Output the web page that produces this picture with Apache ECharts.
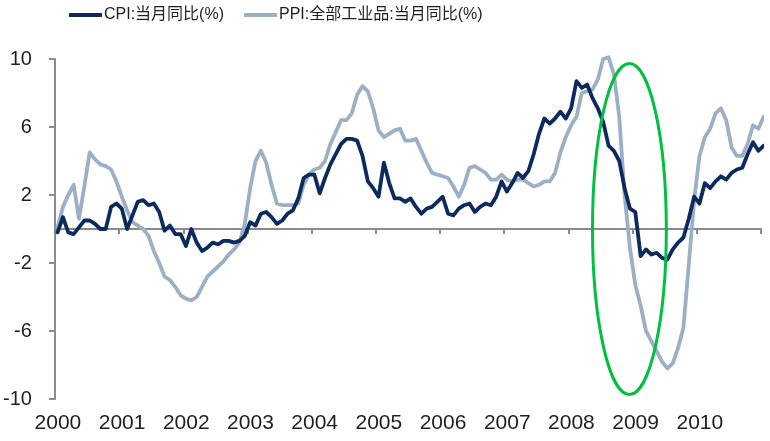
<!DOCTYPE html>
<html>
<head>
<meta charset="utf-8">
<script src="https://cdn.jsdelivr.net/npm/echarts@6/dist/echarts.min.js"></script>
<style>
html,body{margin:0;padding:0;background:#fff;}
#main{width:770px;height:441px;}
</style>
</head>
<body>
<div id="main"></div>
<script>
// Tick labels (year boundaries, one every 12 months starting Jan 2000)
const years = ['2000','2001','2002','2003','2004','2005','2006','2007','2008','2009','2010'];
const yTicks = [-10, -6, -2, 2, 6, 10];
const seriesNames = ['CPI:当月同比(%)', 'PPI:全部工业品:当月同比(%)'];

// Monthly values, Jan 2000 .. Jan 2011
const cpi = [
  -0.2, 0.7, -0.2, -0.3, 0.1, 0.5, 0.5, 0.3, 0.0, 0.0, 1.3, 1.5,
  1.2, 0.0, 0.8, 1.6, 1.7, 1.4, 1.5, 1.0, -0.1, 0.2, -0.3, -0.3,
  -1.0, 0.0, -0.8, -1.3, -1.1, -0.8, -0.9, -0.7, -0.7, -0.8, -0.7, -0.4,
  0.4, 0.2, 0.9, 1.0, 0.7, 0.3, 0.5, 0.9, 1.1, 1.8, 3.0, 3.2,
  3.2, 2.1, 3.0, 3.8, 4.4, 5.0, 5.3, 5.3, 5.2, 4.3, 2.8, 2.4,
  1.9, 3.9, 2.7, 1.8, 1.8, 1.6, 1.8, 1.3, 0.9, 1.2, 1.3, 1.6,
  1.9, 0.9, 0.8, 1.2, 1.4, 1.5, 1.0, 1.3, 1.5, 1.4, 1.9, 2.8,
  2.2, 2.7, 3.3, 3.0, 3.4, 4.4, 5.6, 6.5, 6.2, 6.5, 6.9, 6.5,
  7.1, 8.7, 8.3, 8.5, 7.7, 7.1, 6.3, 4.9, 4.6, 4.0, 2.4, 1.2,
  1.0, -1.6, -1.2, -1.5, -1.4, -1.7, -1.8, -1.2, -0.8, -0.5, 0.6, 1.9,
  1.5, 2.7, 2.4, 2.8, 3.1, 2.9, 3.3, 3.5, 3.6, 4.4, 5.1, 4.6,
  4.9
];
const ppi = [
  0.1, 1.3, 2.0, 2.6, 0.6, 2.5, 4.5, 4.1, 3.8, 3.7, 3.5, 2.8,
  1.9, 1.1, 0.4, 0.2, 0.0, -0.4, -1.3, -2.0, -2.8, -3.0, -3.4, -3.9,
  -4.1, -4.2, -4.0, -3.4, -2.8, -2.5, -2.2, -1.9, -1.5, -1.2, -0.8, 0.3,
  2.4, 4.0, 4.6, 3.9, 2.6, 1.5, 1.4, 1.4, 1.4, 1.5, 2.6, 3.2,
  3.5, 3.6, 4.0, 5.0, 5.7, 6.4, 6.4, 6.8, 7.9, 8.4, 8.1, 7.1,
  5.8, 5.4, 5.6, 5.8, 5.9, 5.2, 5.2, 5.3, 4.6, 3.9, 3.3, 3.2,
  3.1, 3.0, 2.5, 1.9, 2.6, 3.6, 3.7, 3.5, 3.3, 2.9, 2.9, 3.2,
  2.9, 2.8, 2.9, 2.9, 2.7, 2.5, 2.6, 2.8, 2.8, 3.3, 4.5, 5.4,
  6.1, 6.6, 8.0, 8.1, 8.2, 8.8, 10.0, 10.1, 9.1, 6.6, 2.0, -1.1,
  -3.3, -4.5, -6.0, -6.6, -7.2, -7.8, -8.2, -7.9, -7.0, -5.8, -2.1, 1.7,
  4.3, 5.4, 5.9, 6.8, 7.1, 6.4, 4.8, 4.3, 4.3, 5.0, 6.1, 5.9,
  6.6
];

// Highlight ellipse (in data units): centre month index / value, half-width in months, half-height in %
const highlight = { month: 107.4, value: 0, halfMonths: 6.9, halfValue: 9.74 };

const FONT = '"Liberation Sans", Arial, "Noto Sans CJK SC", sans-serif';
const AXIS_COLOR = '#8a8a8a';
const TEXT_COLOR = '#1e1e1e';
const monthsTotal = years.length * 12;

// place each monthly value in the middle of its month
const toXY = arr => arr.map((v, i) => [i + 0.5, v]);

const chart = echarts.init(document.getElementById('main'), null, { renderer: 'canvas' });

const option = {
  animation: false,
  backgroundColor: '#ffffff',
  textStyle: { fontFamily: FONT },
  legend: {
    left: 69,
    top: 7,
    padding: 0,
    icon: 'rect',
    itemWidth: 33,
    itemHeight: 4,
    itemGap: 20,
    data: seriesNames,
    textStyle: { fontFamily: FONT, fontSize: 16, color: TEXT_COLOR, padding: [0, 0, 0, -3] }
  },
  grid: { left: 53, right: 9, top: 59, bottom: 42, containLabel: false },
  xAxis: [
    {
      type: 'value',
      min: 0,
      max: monthsTotal,
      interval: 12,
      position: 'bottom',
      axisLine: { show: false, onZero: false },
      axisTick: { show: false },
      splitLine: { show: false },
      axisLabel: {
        show: true,
        margin: 14,
        fontSize: 21,
        color: TEXT_COLOR,
        fontFamily: FONT,
        padding: [0, 0, 0, 6],
        formatter: v => (years[v / 12] !== undefined ? years[v / 12] : '')
      }
    },
    {
      type: 'value',
      min: 0,
      max: monthsTotal,
      interval: 12,
      position: 'bottom',
      axisLine: { show: true, onZero: true, lineStyle: { color: AXIS_COLOR, width: 2 } },
      axisTick: { show: true, inside: false, length: 5, lineStyle: { color: AXIS_COLOR, width: 2 } },
      axisLabel: { show: false },
      splitLine: { show: false }
    }
  ],
  yAxis: {
    type: 'value',
    min: -10,
    max: 10,
    axisLine: { show: true, onZero: false, lineStyle: { color: AXIS_COLOR, width: 2 } },
    axisTick: { show: true, length: 6, customValues: yTicks, lineStyle: { color: AXIS_COLOR, width: 2 } },
    splitLine: { show: false },
    axisLabel: {
      customValues: yTicks,
      margin: 23,
      fontSize: 20,
      color: TEXT_COLOR,
      fontFamily: FONT
    }
  },
  series: [
    {
      name: seriesNames[0],
      type: 'line',
      xAxisIndex: 0,
      yAxisIndex: 0,
      data: toXY(cpi),
      color: '#0c2a5e',
      showSymbol: false,
      symbol: 'none',
      clip: false,
      z: 3,
      lineStyle: { width: 3.8, color: '#0c2a5e', cap: 'round', join: 'round' }
    },
    {
      name: seriesNames[1],
      type: 'line',
      xAxisIndex: 0,
      yAxisIndex: 0,
      data: toXY(ppi),
      color: '#9bb0c4',
      showSymbol: false,
      symbol: 'none',
      clip: false,
      z: 2,
      lineStyle: { width: 3.8, color: '#9bb0c4', cap: 'round', join: 'round' }
    }
  ]
};

chart.setOption(option);

// Green highlight ellipse positioned through the chart's own scales
const c = chart.convertToPixel({ seriesIndex: 0 }, [highlight.month, highlight.value]);
const e = chart.convertToPixel({ seriesIndex: 0 }, [highlight.month + highlight.halfMonths, highlight.value + highlight.halfValue]);
chart.setOption({
  graphic: [{
    type: 'ellipse',
    z: 100,
    shape: { cx: c[0], cy: c[1], rx: Math.abs(e[0] - c[0]), ry: Math.abs(c[1] - e[1]) },
    style: { fill: 'none', stroke: '#00c040', lineWidth: 3 }
  }]
});
</script>
</body>
</html>
